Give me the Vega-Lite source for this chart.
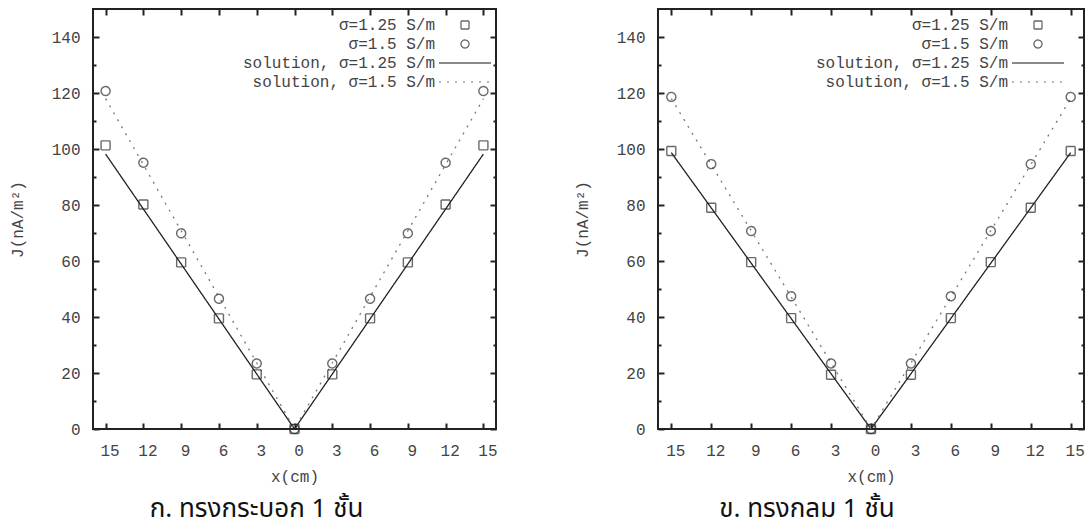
{
  "$schema": "https://vega.github.io/schema/vega-lite/v6.json",
  "padding": {"left": 8, "top": 7, "right": 0, "bottom": 44},
  "bounds": "flush",
  "spacing": 162,
  "datasets": {
    "solA": [
      {"x": -15, "J": 98.2, "series": "solution, σ=1.25 S/m"},
      {"x": 0, "J": 0, "series": "solution, σ=1.25 S/m"},
      {"x": 15, "J": 98.2, "series": "solution, σ=1.25 S/m"},
      {"x": -15, "J": 118, "series": "solution, σ=1.5 S/m"},
      {"x": 0, "J": 0, "series": "solution, σ=1.5 S/m"},
      {"x": 15, "J": 118, "series": "solution, σ=1.5 S/m"}
    ],
    "ptsA": [
      {"x": -15, "J": 101.3, "series": "σ=1.25 S/m"},
      {"x": -12, "J": 80.2, "series": "σ=1.25 S/m"},
      {"x": -9, "J": 59.5, "series": "σ=1.25 S/m"},
      {"x": -6, "J": 39.5, "series": "σ=1.25 S/m"},
      {"x": -3, "J": 19.5, "series": "σ=1.25 S/m"},
      {"x": 0, "J": 0, "series": "σ=1.25 S/m"},
      {"x": 3, "J": 19.5, "series": "σ=1.25 S/m"},
      {"x": 6, "J": 39.5, "series": "σ=1.25 S/m"},
      {"x": 9, "J": 59.5, "series": "σ=1.25 S/m"},
      {"x": 12, "J": 80.2, "series": "σ=1.25 S/m"},
      {"x": 15, "J": 101.3, "series": "σ=1.25 S/m"},
      {"x": -15, "J": 120.7, "series": "σ=1.5 S/m"},
      {"x": -12, "J": 95.1, "series": "σ=1.5 S/m"},
      {"x": -9, "J": 69.9, "series": "σ=1.5 S/m"},
      {"x": -6, "J": 46.5, "series": "σ=1.5 S/m"},
      {"x": -3, "J": 23.4, "series": "σ=1.5 S/m"},
      {"x": 0, "J": 0, "series": "σ=1.5 S/m"},
      {"x": 3, "J": 23.4, "series": "σ=1.5 S/m"},
      {"x": 6, "J": 46.5, "series": "σ=1.5 S/m"},
      {"x": 9, "J": 69.9, "series": "σ=1.5 S/m"},
      {"x": 12, "J": 95.1, "series": "σ=1.5 S/m"},
      {"x": 15, "J": 120.7, "series": "σ=1.5 S/m"}
    ],
    "solB": [
      {"x": -15, "J": 98.7, "series": "solution, σ=1.25 S/m"},
      {"x": 0, "J": 0, "series": "solution, σ=1.25 S/m"},
      {"x": 15, "J": 98.7, "series": "solution, σ=1.25 S/m"},
      {"x": -15, "J": 118, "series": "solution, σ=1.5 S/m"},
      {"x": 0, "J": 0, "series": "solution, σ=1.5 S/m"},
      {"x": 15, "J": 118, "series": "solution, σ=1.5 S/m"}
    ],
    "ptsB": [
      {"x": -15, "J": 99.3, "series": "σ=1.25 S/m"},
      {"x": -12, "J": 79, "series": "σ=1.25 S/m"},
      {"x": -9, "J": 59.6, "series": "σ=1.25 S/m"},
      {"x": -6, "J": 39.6, "series": "σ=1.25 S/m"},
      {"x": -3, "J": 19.4, "series": "σ=1.25 S/m"},
      {"x": 0, "J": 0, "series": "σ=1.25 S/m"},
      {"x": 3, "J": 19.4, "series": "σ=1.25 S/m"},
      {"x": 6, "J": 39.6, "series": "σ=1.25 S/m"},
      {"x": 9, "J": 59.6, "series": "σ=1.25 S/m"},
      {"x": 12, "J": 79, "series": "σ=1.25 S/m"},
      {"x": 15, "J": 99.3, "series": "σ=1.25 S/m"},
      {"x": -15, "J": 118.6, "series": "σ=1.5 S/m"},
      {"x": -12, "J": 94.6, "series": "σ=1.5 S/m"},
      {"x": -9, "J": 70.7, "series": "σ=1.5 S/m"},
      {"x": -6, "J": 47.4, "series": "σ=1.5 S/m"},
      {"x": -3, "J": 23.4, "series": "σ=1.5 S/m"},
      {"x": 0, "J": 0, "series": "σ=1.5 S/m"},
      {"x": 3, "J": 23.4, "series": "σ=1.5 S/m"},
      {"x": 6, "J": 47.4, "series": "σ=1.5 S/m"},
      {"x": 9, "J": 70.7, "series": "σ=1.5 S/m"},
      {"x": 12, "J": 94.6, "series": "σ=1.5 S/m"},
      {"x": 15, "J": 118.6, "series": "σ=1.5 S/m"}
    ]
  },
  "resolve": {
    "scale": {"color": "independent", "shape": "independent", "strokeDash": "independent"},
    "legend": {"color": "independent", "shape": "independent", "strokeDash": "independent"}
  },
  "hconcat": [
    {
      "width": 403,
      "height": 420,
      "title": {"text": "ก. ทรงกระบอก 1 ชั้น", "orient": "bottom", "anchor": "middle", "dx": -38, "offset": 12},
      "layer": [
        {
          "data": {"name": "solA"},
          "mark": {"type": "line", "strokeWidth": 1.3},
          "encoding": {
            "x": {"field": "x", "type": "quantitative", "scale": {"domain": [-16, 16], "nice": false, "zero": false},
              "axis": {"orient": "bottom", "title": "x(cm)", "values": [-15, -12, -9, -6, -3, 0, 3, 6, 9, 12, 15], "labelExpr": "abs(datum.value)"}},
            "y": {"field": "J", "type": "quantitative", "scale": {"domain": [0, 150], "nice": false},
              "axis": {"orient": "left", "title": "J(nA/m²)", "values": [0, 10, 20, 30, 40, 50, 60, 70, 80, 90, 100, 110, 120, 130, 140],
                "labelExpr": "datum.value % 20 == 0 ? datum.label : ''",
                "tickSize": {"condition": {"test": "datum.value % 20 != 0", "value": -3}, "value": -6}}},
            "color": {"field": "series", "type": "nominal", "scale": {"domain": ["σ=1.25 S/m", "σ=1.5 S/m", "solution, σ=1.25 S/m", "solution, σ=1.5 S/m"], "range": ["#2a2a2a", "#2a2a2a", "#222222", "#777777"]},
              "legend": {"orient": "none", "legendX": 364, "legendY": 8}},
            "strokeDash": {"field": "series", "type": "nominal", "scale": {"domain": ["σ=1.25 S/m", "σ=1.5 S/m", "solution, σ=1.25 S/m", "solution, σ=1.5 S/m"], "range": [[1, 0], [1, 0], [1, 0], [2, 6]]},
              "legend": {"orient": "none", "legendX": 364, "legendY": 8}}
          }
        },
        {
          "data": {"name": "ptsA"},
          "mark": {"type": "point", "filled": false, "size": 81, "strokeWidth": 1.4},
          "encoding": {
            "x": {"field": "x", "type": "quantitative",
              "axis": {"orient": "top", "title": null, "labels": false, "values": [-15, -12, -9, -6, -3, 0, 3, 6, 9, 12, 15]}},
            "y": {"field": "J", "type": "quantitative",
              "axis": {"orient": "right", "title": null, "labels": false, "values": [0, 10, 20, 30, 40, 50, 60, 70, 80, 90, 100, 110, 120, 130, 140],
                "tickSize": {"condition": {"test": "datum.value % 20 != 0", "value": -3}, "value": -6}}},
            "shape": {"field": "series", "type": "nominal", "scale": {"domain": ["σ=1.25 S/m", "σ=1.5 S/m", "solution, σ=1.25 S/m", "solution, σ=1.5 S/m"], "range": ["square", "circle", "M-6.5,0H6.5", "M-6.5,0H6.5"]},
              "legend": {"orient": "none", "legendX": 364, "legendY": 8}},
            "color": {"field": "series", "type": "nominal", "legend": {"orient": "none", "legendX": 364, "legendY": 8}},
            "strokeDash": {"field": "series", "type": "nominal", "legend": {"orient": "none", "legendX": 364, "legendY": 8}}
          }
        }
      ]
    },
    {
      "width": 426,
      "height": 420,
      "title": {"text": "ข. ทรงกลม 1 ชั้น", "orient": "bottom", "anchor": "middle", "dx": -64, "offset": 12},
      "layer": [
        {
          "data": {"name": "solB"},
          "mark": {"type": "line", "strokeWidth": 1.3},
          "encoding": {
            "x": {"field": "x", "type": "quantitative", "scale": {"domain": [-16, 16], "nice": false, "zero": false},
              "axis": {"orient": "bottom", "title": "x(cm)", "values": [-15, -12, -9, -6, -3, 0, 3, 6, 9, 12, 15], "labelExpr": "abs(datum.value)"}},
            "y": {"field": "J", "type": "quantitative", "scale": {"domain": [0, 150], "nice": false},
              "axis": {"orient": "left", "title": "J(nA/m²)", "values": [0, 10, 20, 30, 40, 50, 60, 70, 80, 90, 100, 110, 120, 130, 140],
                "labelExpr": "datum.value % 20 == 0 ? datum.label : ''",
                "tickSize": {"condition": {"test": "datum.value % 20 != 0", "value": -3}, "value": -6}}},
            "color": {"field": "series", "type": "nominal", "scale": {"domain": ["σ=1.25 S/m", "σ=1.5 S/m", "solution, σ=1.25 S/m", "solution, σ=1.5 S/m"], "range": ["#2a2a2a", "#2a2a2a", "#222222", "#777777"]},
              "legend": {"orient": "none", "legendX": 372, "legendY": 8}},
            "strokeDash": {"field": "series", "type": "nominal", "scale": {"domain": ["σ=1.25 S/m", "σ=1.5 S/m", "solution, σ=1.25 S/m", "solution, σ=1.5 S/m"], "range": [[1, 0], [1, 0], [1, 0], [2, 6]]},
              "legend": {"orient": "none", "legendX": 372, "legendY": 8}}
          }
        },
        {
          "data": {"name": "ptsB"},
          "mark": {"type": "point", "filled": false, "size": 81, "strokeWidth": 1.4},
          "encoding": {
            "x": {"field": "x", "type": "quantitative",
              "axis": {"orient": "top", "title": null, "labels": false, "values": [-15, -12, -9, -6, -3, 0, 3, 6, 9, 12, 15]}},
            "y": {"field": "J", "type": "quantitative",
              "axis": {"orient": "right", "title": null, "labels": false, "values": [0, 10, 20, 30, 40, 50, 60, 70, 80, 90, 100, 110, 120, 130, 140],
                "tickSize": {"condition": {"test": "datum.value % 20 != 0", "value": -3}, "value": -6}}},
            "shape": {"field": "series", "type": "nominal", "scale": {"domain": ["σ=1.25 S/m", "σ=1.5 S/m", "solution, σ=1.25 S/m", "solution, σ=1.5 S/m"], "range": ["square", "circle", "M-6.5,0H6.5", "M-6.5,0H6.5"]},
              "legend": {"orient": "none", "legendX": 372, "legendY": 8}},
            "color": {"field": "series", "type": "nominal", "legend": {"orient": "none", "legendX": 372, "legendY": 8}},
            "strokeDash": {"field": "series", "type": "nominal", "legend": {"orient": "none", "legendX": 372, "legendY": 8}}
          }
        }
      ]
    }
  ],
  "config": {
    "background": "white",
    "view": {"stroke": "#222222", "strokeWidth": 2},
    "axis": {
      "domain": false,
      "grid": false,
      "tickSize": -6,
      "tickWidth": 2,
      "tickColor": "#222222",
      "labelPadding": 19,
      "labelFont": "Liberation Mono",
      "labelFontSize": 16,
      "labelColor": "#444444",
      "titleFont": "Liberation Mono",
      "titleFontSize": 16,
      "titleFontWeight": "normal",
      "titleColor": "#444444"
    },
    "axisBottom": {"labelOffset": 4, "titlePadding": 10},
    "axisLeft": {"titlePadding": 26},
    "legend": {
      "title": null,
      "symbolSize": 64,
      "symbolStrokeWidth": 1.3,
      "symbolFillColor": "transparent",
      "labelAlign": "right",
      "labelOffset": -38,
      "labelFont": "Liberation Mono",
      "labelFontSize": 16,
      "labelColor": "#444444",
      "labelLimit": 400,
      "rowPadding": 3,
      "padding": 0
    },
    "title": {
      "font": "Noto Sans Thai, Noto Sans, sans-serif",
      "fontSize": 26,
      "fontWeight": "normal",
      "color": "#111111"
    }
  }
}
